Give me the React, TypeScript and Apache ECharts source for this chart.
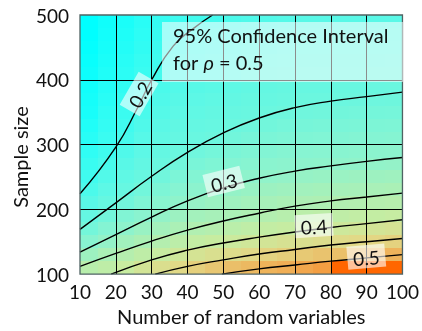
import React, { useEffect, useRef } from "react";
import * as echarts from "echarts";

// Heatmap cell centres (x: number of random variables, y: sample size)
const cellX = [12.5, 17.5, 22.5, 27.5, 32.5, 37.5, 42.5, 47.5, 52.5, 57.5, 62.5, 67.5, 72.5, 77.5, 82.5, 87.5, 92.5, 97.5];
const cellY = [110, 130, 150, 170, 190, 210, 230, 250, 270, 290, 310, 330, 350, 370, 390, 410, 430, 450, 470, 490];

// CI width per cell, one row per cellY entry (bottom to top)
const heatRows = [
  [0.368, 0.378, 0.395, 0.417, 0.433, 0.448, 0.461, 0.472, 0.483, 0.491, 0.499, 0.505, 0.511, 0.517, 0.56, 0.56, 0.56, 0.56],
  [0.323, 0.344, 0.362, 0.378, 0.393, 0.408, 0.421, 0.431, 0.44, 0.448, 0.456, 0.463, 0.47, 0.477, 0.482, 0.488, 0.492, 0.498],
  [0.288, 0.307, 0.329, 0.346, 0.361, 0.375, 0.386, 0.394, 0.402, 0.41, 0.417, 0.424, 0.431, 0.437, 0.443, 0.448, 0.452, 0.458],
  [0.262, 0.282, 0.298, 0.316, 0.332, 0.345, 0.355, 0.363, 0.371, 0.379, 0.386, 0.391, 0.396, 0.4, 0.406, 0.412, 0.417, 0.422],
  [0.242, 0.26, 0.279, 0.292, 0.306, 0.321, 0.332, 0.338, 0.344, 0.351, 0.359, 0.366, 0.372, 0.376, 0.38, 0.384, 0.387, 0.391],
  [0.227, 0.243, 0.259, 0.276, 0.289, 0.299, 0.311, 0.319, 0.326, 0.333, 0.338, 0.344, 0.348, 0.351, 0.355, 0.359, 0.363, 0.366],
  [0.212, 0.231, 0.245, 0.259, 0.273, 0.285, 0.294, 0.3, 0.308, 0.314, 0.32, 0.325, 0.33, 0.333, 0.336, 0.338, 0.341, 0.344],
  [0.198, 0.219, 0.235, 0.246, 0.258, 0.272, 0.281, 0.288, 0.293, 0.298, 0.302, 0.307, 0.311, 0.314, 0.317, 0.32, 0.323, 0.326],
  [0.19, 0.207, 0.226, 0.239, 0.247, 0.258, 0.269, 0.276, 0.282, 0.287, 0.291, 0.294, 0.296, 0.298, 0.299, 0.301, 0.305, 0.307],
  [0.18, 0.197, 0.216, 0.231, 0.241, 0.248, 0.256, 0.263, 0.27, 0.276, 0.28, 0.284, 0.286, 0.288, 0.289, 0.291, 0.293, 0.294],
  [0.17, 0.191, 0.206, 0.224, 0.235, 0.242, 0.247, 0.251, 0.259, 0.265, 0.27, 0.274, 0.276, 0.278, 0.279, 0.281, 0.283, 0.284],
  [0.16, 0.184, 0.198, 0.216, 0.229, 0.237, 0.242, 0.245, 0.249, 0.254, 0.259, 0.264, 0.266, 0.268, 0.269, 0.271, 0.273, 0.274],
  [0.15, 0.178, 0.192, 0.209, 0.222, 0.231, 0.236, 0.24, 0.244, 0.247, 0.25, 0.254, 0.256, 0.258, 0.259, 0.261, 0.263, 0.264],
  [0.146, 0.171, 0.187, 0.201, 0.216, 0.225, 0.231, 0.235, 0.239, 0.243, 0.245, 0.247, 0.249, 0.249, 0.25, 0.251, 0.253, 0.254],
  [0.141, 0.165, 0.181, 0.196, 0.21, 0.22, 0.225, 0.229, 0.234, 0.238, 0.241, 0.243, 0.245, 0.245, 0.246, 0.246, 0.247, 0.248],
  [0.136, 0.159, 0.175, 0.191, 0.204, 0.214, 0.22, 0.224, 0.229, 0.234, 0.237, 0.239, 0.241, 0.241, 0.242, 0.242, 0.243, 0.244],
  [0.13, 0.152, 0.17, 0.186, 0.198, 0.208, 0.214, 0.219, 0.224, 0.229, 0.232, 0.235, 0.237, 0.237, 0.238, 0.238, 0.239, 0.24],
  [0.125, 0.148, 0.164, 0.181, 0.194, 0.203, 0.209, 0.214, 0.22, 0.225, 0.228, 0.231, 0.233, 0.233, 0.234, 0.234, 0.235, 0.236],
  [0.12, 0.144, 0.158, 0.176, 0.189, 0.198, 0.204, 0.208, 0.215, 0.22, 0.224, 0.226, 0.229, 0.229, 0.23, 0.23, 0.231, 0.232],
  [0.115, 0.14, 0.153, 0.171, 0.185, 0.194, 0.199, 0.203, 0.21, 0.216, 0.219, 0.222, 0.225, 0.225, 0.226, 0.226, 0.227, 0.228],
];

// Contour lines [x, y]
const contour020 = [[10, 224], [20, 296], [26, 356], [30, 400], [36, 452], [41.6, 479], [47, 500]];
const contour025 = [[10, 169], [20, 210], [30, 251], [40, 288], [50, 318], [60, 341], [70, 357], [80, 367], [90, 374], [100, 381]];
const contour030 = [[10, 134], [20, 161], [30, 188], [40, 213], [50, 233], [60, 248], [70, 259], [80, 267], [90, 274], [100, 280]];
const contour035 = [[10, 112], [20, 132], [30, 151], [40, 168], [50, 182], [60, 194], [70, 205], [80, 213], [90, 219], [100, 225]];
const contour040 = [[18.7, 100], [30, 122], [40, 137], [50, 148], [60, 157], [70, 165], [80, 172], [90, 178], [100, 184]];
const contour045 = [[31, 100], [40, 112], [50, 122], [60, 131], [70, 138], [80, 145], [90, 150], [100, 155]];
const contour050 = [[49.6, 100], [60, 108], [70, 114], [80, 120], [90, 125], [100, 130]];

// Contour labels: text, anchor [x, y], angle (deg)
const labelTexts = ["0.2", "0.3", "0.4", "0.5"];
const labelAnchors = [[26.5, 378], [50.1, 243], [75.3, 175], [89.9, 127]];
const labelAngles = [60, 14, 3.5, 5];

const FONT = "Lato, 'Open Sans', 'DejaVu Sans', sans-serif";

export default function App() {
  const ref = useRef<HTMLDivElement>(null);
  useEffect(() => {
    if (!ref.current) return;
    const chart = echarts.init(ref.current, null, { renderer: "svg" });
    const heatData: number[][] = [];
    cellY.forEach((y, r) => {
      cellX.forEach((x, c) => {
        heatData.push([x, y, heatRows[r][c]]);
      });
    });
    const contours = [contour020, contour025, contour030, contour035, contour040, contour045, contour050];
    chart.setOption({
      animation: false,
      grid: { left: 80, right: 13, top: 15, bottom: 48, show: true, borderColor: "#4f6363", borderWidth: 1.3, backgroundColor: "transparent", z: 5 },
      visualMap: {
        type: "continuous", show: false, min: 0.12, max: 0.56, dimension: 2, seriesIndex: 0,
        inRange: { color: ["#00ffff", "#2cfdf5", "#5cf8e6", "#86f4d2", "#a8f0b8", "#c8eca0", "#e2d886", "#f0ae55", "#ff6600"] },
      },
      xAxis: {
        type: "value", min: 10, max: 100, interval: 10, z: 3,
        axisLine: { show: false }, axisTick: { show: false },
        splitLine: { show: true, showMinLine: false, showMaxLine: false, lineStyle: { color: "#000", width: 1 } },
        axisLabel: { fontSize: 19, color: "#111", margin: 8, fontFamily: FONT },
        name: "Number of random variables", nameLocation: "middle", nameGap: 27,
        nameTextStyle: { fontSize: 20, color: "#111", fontFamily: FONT },
      },
      yAxis: {
        type: "value", min: 100, max: 500, interval: 100, z: 3,
        axisLine: { show: false }, axisTick: { show: false },
        splitLine: { show: true, showMinLine: false, showMaxLine: false, lineStyle: { color: "#000", width: 1 } },
        axisLabel: { fontSize: 19, color: "#111", margin: 11, fontFamily: FONT },
      },
      series: [
        {
          type: "custom", z: 1, data: heatData, encode: { x: 0, y: 1 },
          renderItem: (params: any, api: any) => {
            const x = api.value(0), y = api.value(1);
            const p0 = api.coord([x - 2.5, y + 10]);
            const p1 = api.coord([x + 2.5, y - 10]);
            const x0 = Math.round(p0[0]), y0 = Math.round(p0[1]);
            const x1 = Math.round(p1[0]), y1 = Math.round(p1[1]);
            return { type: "rect", shape: { x: x0, y: y0, width: x1 - x0, height: y1 - y0 }, style: { fill: api.visual("color") } };
          },
        },
        ...contours.map((pts) => ({
          type: "line", z: 4, data: pts, smooth: 0.5, symbol: "none", silent: true,
          lineStyle: { color: "#000", width: 1.4 },
        })),
      ],
    });
    const labels = labelTexts.map((t, i) => {
      const p = chart.convertToPixel({ gridIndex: 0 }, labelAnchors[i]) as number[];
      return {
        type: "group", x: p[0], y: p[1], rotation: (labelAngles[i] * Math.PI) / 180, z: 30,
        children: [
          { type: "rect", z: 30, shape: { x: -19, y: -11.5, width: 38, height: 23 }, style: { fill: "rgba(255,255,255,0.6)" } },
          { type: "text", z: 31, x: 0, y: 1, style: { text: t, fontSize: 19, fontFamily: FONT, fill: "#111", align: "center", verticalAlign: "middle" } },
        ],
      };
    });
    chart.setOption({
      graphic: [
        { type: "rect", z: 20, shape: { x: 162, y: 22, width: 241, height: 60 }, style: { fill: "rgba(255,255,255,0.55)" } },
        { type: "text", z: 21, x: 173, y: 45, style: { text: "95% Confidence Interval", fontSize: 20, fontFamily: FONT, fill: "#111", verticalAlign: "bottom" } },
        { type: "text", z: 21, x: 173, y: 72, style: { text: "for {i|ρ} = 0.5", fontSize: 20, fontFamily: FONT, fill: "#111", verticalAlign: "bottom", rich: { i: { fontSize: 20, fontStyle: "italic", fontFamily: FONT, fill: "#111" } } } },
        { type: "text", z: 21, x: 20, y: 157, rotation: Math.PI / 2, style: { text: "Sample size", fontSize: 20, fontFamily: FONT, fill: "#111", align: "center", verticalAlign: "middle" } },
        ...labels,
      ],
    });
    return () => chart.dispose();
  }, []);
  return <div ref={ref} style={{ position: "fixed", left: 0, top: 0, width: 422, height: 331 }} />;
}
